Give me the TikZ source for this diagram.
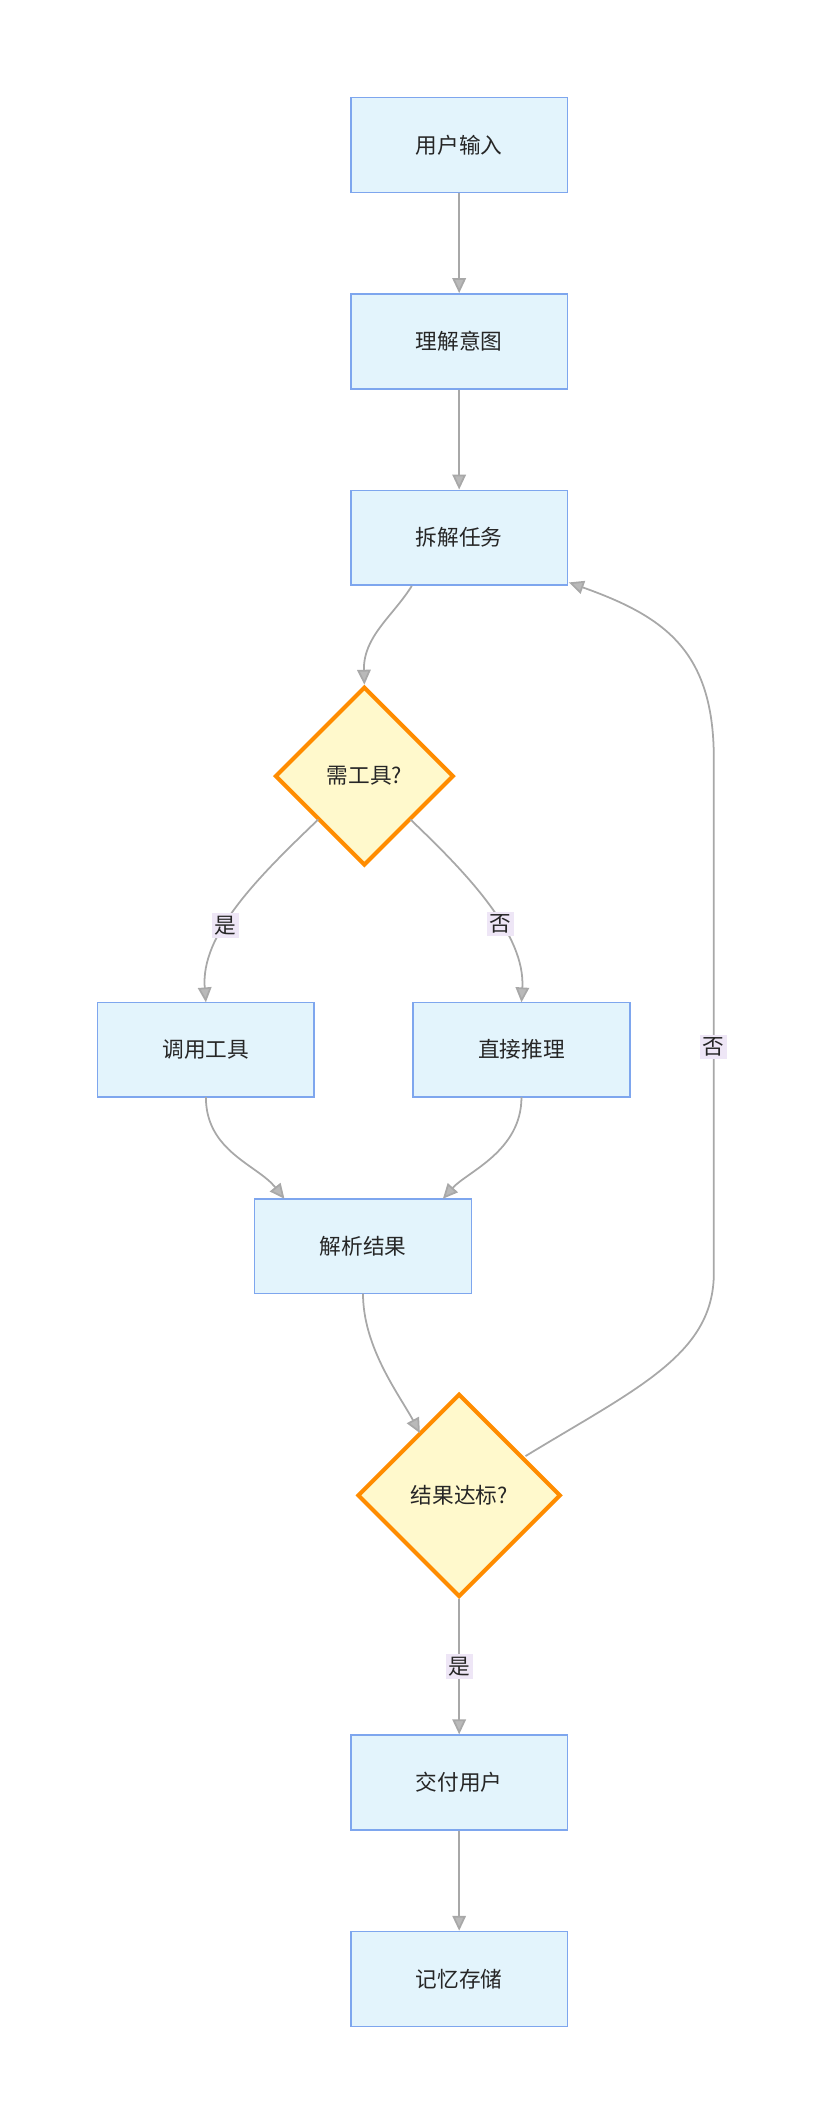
\documentclass[tikz,border=0pt]{standalone}
\usepackage{fontspec}
\setmainfont{Noto Sans CJK SC}
\usetikzlibrary{shapes.geometric,arrows.meta}
\definecolor{bfill}{HTML}{E3F4FC}
\definecolor{bdraw}{HTML}{7EA6EE}
\definecolor{dfill}{HTML}{FFF9CC}
\definecolor{ddraw}{HTML}{FF8C00}
\definecolor{edge}{HTML}{A8A8A8}
\definecolor{lbl}{HTML}{EEE6F6}
\begin{document}
\begin{tikzpicture}[x=1pt,y=-1pt,
  box/.style={draw=bdraw,fill=bfill,line width=1.2pt,minimum width=160pt,minimum height=70pt,font=\fontsize{16}{18}\selectfont,text=black!85},
  dia/.style={diamond,draw=ddraw,fill=dfill,line width=3pt,inner sep=0pt,font=\fontsize{16}{18}\selectfont,text=black!85},
  ed/.style={draw=edge,line width=1.3pt,-{Triangle[length=11pt,width=10pt,fill=edge!80]}},
  lb/.style={fill=lbl,inner sep=2pt,font=\fontsize{16}{18}\selectfont,text=black!85}]
\useasboundingbox (0,0) rectangle (604,1560);
\node[box] (a) at (339,107) {用户输入};
\node[box] (b) at (339,252) {理解意图};
\node[box] (c) at (339,397) {拆解任务};
\node[dia,minimum width=132pt,minimum height=132pt] (d) at (269,573) {需工具?};
\node[box] (e) at (152,775) {调用工具};
\node[box] (f) at (385,775) {直接推理};
\node[box] (g) at (268,920) {解析结果};
\node[dia,minimum width=150pt,minimum height=150pt] (h) at (339,1104) {结果达标?};
\node[box] (i) at (339,1316) {交付用户};
\node[box] (j) at (339,1461) {记忆存储};
\draw[ed] (a) -- (b);
\draw[ed] (b) -- (c);
\draw[ed] (c.south)+(-35,0) coordinate (c1) (c1) .. controls (290,455) and (268,470) .. (d.north);
\draw[ed] (d.north west)+(0,0) coordinate (d1) (235,605) .. controls (190,648) and (148,690) .. (152,740) node[lb,pos=0.6] {是};
\draw[ed] (303,605) .. controls (345,645) and (388,690) .. (385,740) node[lb,pos=0.6] {否};
\draw[ed] (152,810) .. controls (152,850) and (190,860) .. (210,885);
\draw[ed] (385,810) .. controls (385,850) and (345,865) .. (327,885);
\draw[ed] (268,955) .. controls (268,995) and (295,1030) .. (310,1058);
\draw[ed] (h) -- (i) node[lb,midway] {是};
\draw[ed] (i) -- (j);
\draw[ed] (388,1075) .. controls (470,1025) and (527,1000) .. (527,940) -- (527,560) .. controls (527,480) and (490,455) .. (420,430);
\node[lb] at (527,773) {否};
\end{tikzpicture}
\end{document}
